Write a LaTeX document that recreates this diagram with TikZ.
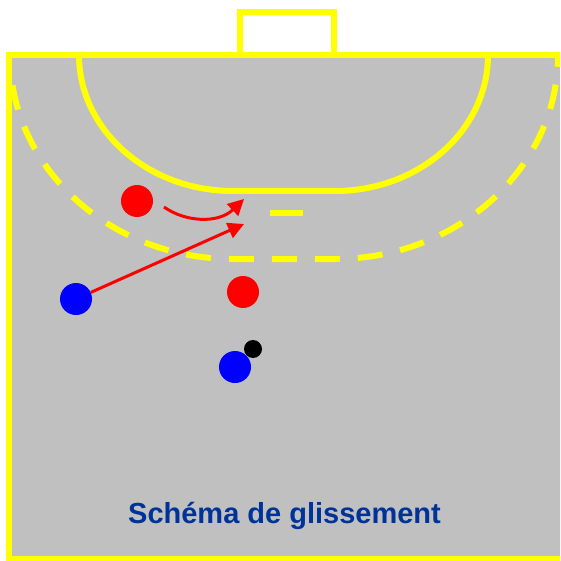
\documentclass[tikz,border=0pt]{standalone}
\usepackage{fontspec}
\setmainfont{Liberation Sans}
\usetikzlibrary{arrows.meta}
\definecolor{courtgray}{RGB}{192,192,192}
\definecolor{lineyellow}{RGB}{255,255,0}
\definecolor{titleblue}{RGB}{0,51,153}
\definecolor{pred}{RGB}{255,0,0}
\definecolor{pblue}{RGB}{0,0,255}
\tikzset{
  courtline/.style={draw=lineyellow, line width=6pt},
  dashline/.style={draw=lineyellow, line width=6pt, dash pattern=on 25pt off 18pt, dash phase=34pt},
  player/.style={circle, minimum size=32pt, inner sep=0pt, draw=none},
  redplayer/.style={player, fill=pred},
  blueplayer/.style={player, fill=pblue},
  ballstyle/.style={circle, minimum size=18pt, inner sep=0pt, draw=none, fill=black},
  move/.style={draw=pred, line width=3pt, -{Triangle[length=16pt,width=16pt]}},
  title/.style={font=\fontsize{29}{34}\selectfont\bfseries, text=titleblue, anchor=base, inner sep=0pt}
}
\begin{document}
\begin{tikzpicture}[x=1pt,y=1pt,yscale=-1]
\useasboundingbox (0,0) rectangle (560,561);
\clip (0,0) rectangle (560,561);
% goal
\path[courtline, fill=white] (240,55) rectangle (334,12);
% court
\path[courtline, fill=courtgray] (9,55) rectangle (580,559);
% 6m line
\path[courtline] (79,55) arc[start angle=180, end angle=90, x radius=154pt, y radius=136pt]
  -- (335,191) arc[start angle=90, end angle=0, x radius=153pt, y radius=136pt];
% 9m dashed line
\path[dashline] (233,55) ++(174:223pt and 204pt) arc[start angle=174, end angle=90, x radius=223pt, y radius=204pt]
  -- (335,259) arc[start angle=90, end angle=0, x radius=223pt, y radius=204pt];
% short line
\path[courtline] (270,213) -- (303,213);
% players
\node[redplayer] (red1) at (137,201) {};
\node[redplayer] (red2) at (243,292) {};
\node[blueplayer] (blue1) at (76,299) {};
\node[blueplayer] (blue2) at (235,367) {};
\node[ballstyle] (ball) at (253,349) {};
% arrows
\coordinate (curvestart) at (164,207);
\coordinate (curveend) at (244,199);
\coordinate (passend) at (244,224);
\draw[move] (curvestart) .. controls (185,222) and (218,224) .. (curveend);
\draw[move] (blue1) -- (passend);
% title
\node[title] (caption) at (284.5,523) {Schéma de glissement};
\end{tikzpicture}
\end{document}
